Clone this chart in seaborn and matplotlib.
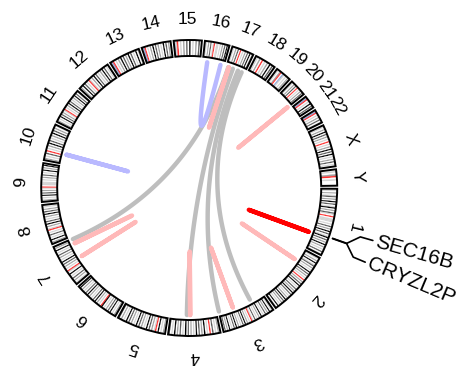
import numpy as np
import pandas as pd
import matplotlib
matplotlib.use('Agg')
import matplotlib.pyplot as plt
from matplotlib.patches import Wedge
import seaborn as sns

# chromosome sizes (Mb, hg19)
chrom_names = ['1', '2', '3', '4', '5', '6', '7', '8', '9', '10', '11', '12',
               '13', '14', '15', '16', '17', '18', '19', '20', '21', '22', 'X', 'Y']
chrom_sizes = [249.25, 243.2, 198.0, 191.15, 180.9, 171.1, 159.1, 146.4, 141.2,
               135.5, 135.0, 133.85, 115.2, 107.35, 102.5, 90.35, 81.2, 78.1,
               59.1, 63.0, 48.1, 51.3, 155.3, 59.4]

# rough band stains per chromosome, p-ter -> q-ter
# 0 gneg, 1 gpos25, 2 gpos50, 3 gpos75, 4 gpos100, r acen, b gvar/stalk
band_codes = [
    "0102013020403014020310r0111010302040301403020402010301",
    "0102040130201040302010r02030401030204030102040302010401",
    "01040203010402010301r0102040301020403010402030",
    "0201030r010402030401020304010302040103",
    "0201040r10203040102030401020304010203",
    "02010403020104r01020403010204030102040",
    "010203010401r010203040102030104020",
    "02040103010r10204030102040302010",
    "020104030201r0111010203010402040",
    "0201030r01020403010204030201",
    "020104030201r010204030102040301",
    "020403010r102040301020403010",
    "1br01020403020403010402",
    "1br0102040302010403020",
    "b1r010203040102030",
    "01020301r011010203040",
    "0102030r0102030402",
    "01020r010204030",
    "0102r0b101020",
    "0102030r0102030",
    "1br0104030",
    "1br01020301",
    "0102040302010r0102040304010203010",
    "0102r01000",
]
band_colors = {'0': '#ffffff', '1': '#d4d4d4', '2': '#a0a0a0', '3': '#5a5a5a',
               '4': '#000000', 'r': '#ff3030', 'b': '#8fa8dc'}

# links: chrom/pos (Mb) of both ends and colour group
link_chr_a = ['17', '17', '17', '17', '17', '20', '2', '3', '4', '7', '7', '16', '10', '1']
link_pos_a = [9, 29, 52, 69, 11, 62, 54, 136, 110, 138, 76, 19, 40, 185]
link_chr_b = ['7', '4', '3', '3', '17', '20', '2', '3', '4', '7', '7', '16', '10', '1']
link_pos_b = [157, 124, 197, 57, 11.3, 62.3, 54.3, 136.3, 110.3, 138.3, 76.3, 76, 40.3, 185.3]
link_kind = ['gray', 'gray', 'gray', 'gray', 'pink', 'pink', 'pink', 'pink', 'pink',
             'pink', 'pink', 'blue', 'blue', 'red']
link_palette = {'gray': '#bebebe', 'pink': '#ffb9b9', 'blue': '#b9b9ff', 'red': '#ff0000'}

gene_names = ['SEC16B', 'CRYZL2P']
gene_chr = ['1', '1']
gene_pos = [178.0, 179.0]

# layout (pixel units, circle centred at origin)
gap = 1.2
r_out, r_in = 148, 132
r_link = 127
r_label = 169
total = sum(chrom_sizes)
scale = (360 - gap * len(chrom_sizes)) / total
cum = np.concatenate([[0], np.cumsum(chrom_sizes)[:-1]])
start_cw = {c: gap * (i + 0.25) + cum[i] * scale for i, c in enumerate(chrom_names)}


def angle(chrom, pos):
    # degrees, counter-clockwise from 3 o'clock
    return -(start_cw[chrom] + pos * scale)


def polar(r, deg):
    t = np.deg2rad(deg)
    return r * np.cos(t), r * np.sin(t)


sns.set_theme(style='white')
plt.rcParams['font.family'] = ['Liberation Sans', 'DejaVu Sans']

fig = plt.figure(figsize=(4.6, 3.66), dpi=100)
ax = fig.add_axes([0, 0, 1, 1])

# ideogram
for c, size, code in zip(chrom_names, chrom_sizes, band_codes):
    n = len(code)
    for j, ch in enumerate(code):
        a1 = angle(c, size * (j + 1) / n)
        a2 = angle(c, size * j / n)
        ax.add_patch(Wedge((0, 0), r_out, a1, a2, width=r_out - r_in,
                           facecolor=band_colors[ch], edgecolor=band_colors[ch], lw=0.2))
    ax.add_patch(Wedge((0, 0), r_out, angle(c, size), angle(c, 0), width=r_out - r_in,
                       fill=False, edgecolor='black', lw=1.4))
    mid = angle(c, size / 2)
    x, y = polar(r_label, mid)
    ax.text(x, y, c, rotation=mid - 90, rotation_mode='anchor', ha='center',
            va='center', fontsize=12.5, color='black')

# links: quadratic bezier with control point at the centre
t = np.linspace(0, 1, 80)
rows = []
for k in range(len(link_kind)):
    x0, y0 = polar(r_link, angle(link_chr_a[k], link_pos_a[k]))
    x2, y2 = polar(r_link, angle(link_chr_b[k], link_pos_b[k]))
    bx = (1 - t) ** 2 * x0 + t ** 2 * x2
    by = (1 - t) ** 2 * y0 + t ** 2 * y2
    rows.append(pd.DataFrame({'x': bx, 'y': by, 'link': k, 'kind': link_kind[k]}))
links = pd.concat(rows, ignore_index=True)
sns.lineplot(data=links, x='x', y='y', units='link', hue='kind', estimator=None,
             sort=False, palette=link_palette, hue_order=['gray', 'pink', 'blue', 'red'],
             lw=3.2, solid_capstyle='round', legend=False, ax=ax)

# gene labels with connectors
ga = [angle(c, p) for c, p in zip(gene_chr, gene_pos)]
gmid = np.mean(ga)
spread = 3.45
label_angles = [gmid + spread * (len(ga) - 1 - 2 * i) / max(len(ga) - 1, 1) for i in range(len(ga))]
for name, a, la in zip(gene_names, ga, label_angles):
    pts = [polar(152, a), polar(167, a), polar(178, la), polar(191, la)]
    ax.plot([p[0] for p in pts], [p[1] for p in pts], color='black', lw=1.2)
    x, y = polar(194, la)
    ax.text(x, y, name, rotation=la, rotation_mode='anchor', ha='left',
            va='center', fontsize=15, color='black')

ax.set_xlim(-189.2, 460 - 189.2)
ax.set_ylim(-(366 - 188), 188)
ax.axis('off')
fig.savefig('out.png', dpi=100)
